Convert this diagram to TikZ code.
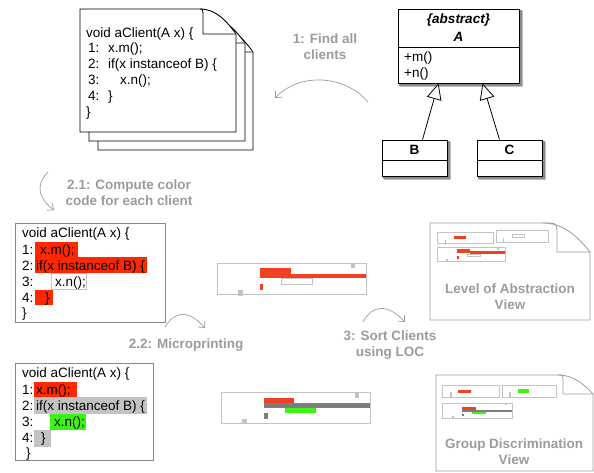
\documentclass[tikz,border=0pt]{standalone}
\usepackage{fontspec}
\setmainfont{Liberation Sans}
\usetikzlibrary{positioning,arrows.meta,backgrounds}

\definecolor{stepgray}{RGB}{155,155,155}
\definecolor{boxgray}{RGB}{135,135,135}
\definecolor{printgray}{RGB}{195,195,195}
\definecolor{hired}{RGB}{255,40,0}
\definecolor{printred}{RGB}{240,65,35}
\definecolor{higreen}{RGB}{60,245,20}
\definecolor{bargray}{RGB}{125,125,125}

\newcommand{\diagfont}{\fontsize{13.5}{16}\selectfont}

% sheet with a curled corner: x1, y1, x2, y2, curl length, fold offset, fold depth
\newcommand{\docsheet}[8][]{%
  \draw[#1] (#2,#3) -- (#4-#6,#3) .. controls (#4-0.55*#6,#3) and (#4-0.25*#6,#3+0.5*#8) .. (#4,#3+#8)
    -- (#4,#5) -- (#2,#5) -- cycle;
  \draw[#1] (#4-#6,#3) .. controls (#4-#7,#3) .. (#4-#7,#3+0.4*#8) -- (#4-#7,#3+#8) -- (#4,#3+#8);}

% soft shadow behind a class box
\newcommand{\boxshadow}[1]{%
  \begin{scope}[on background layer]
    \fill[black!25] ([shift={(2pt,-4pt)}]#1.south west) rectangle ([shift={(4pt,-2pt)}]#1.north east);
    \fill[black!45] ([shift={(1pt,-3pt)}]#1.south west) rectangle ([shift={(3pt,-1pt)}]#1.north east);
  \end{scope}}

\tikzset{
  code/.style={anchor=base west, inner sep=0pt, font=\diagfont},
  stepnote/.style={text=stepgray, font=\diagfont\bfseries, align=center},
  curvy/.style={draw=stepgray, line width=0.7pt, -{Straight Barb[length=5pt,width=9pt]}},
  umlbox/.style={draw, fill=white, line width=0.8pt},
  inherit/.style={line width=0.8pt, -{Triangle[open, length=16pt, width=15pt, fill=white]}},
}

\begin{document}
\begin{tikzpicture}[x=1pt, y=-1pt]
\useasboundingbox (0,0) rectangle (594,473);

% stack of client sources
\docsheet[fill=white, line width=0.9pt]{98}{27}{253}{150}{36}{33}{25}
\docsheet[fill=white, line width=0.9pt]{89}{18}{245}{141}{36}{33}{25}
\docsheet[fill=white, line width=0.9pt]{80}{9}{236}{132}{36}{33}{25}
\node[code] (d0) at (86,37.5) {void aClient(A x) \{};
\foreach \k/\y in {1/52.5,2/68.5,3/84.5,4/100.5}
  \node[code] (dn\k) at (88,\y) {\k:};
\node[code] (d1) at (108,52.5) {x.m();};
\node[code] (d2) at (108,68.5) {if(x instanceof B) \{};
\node[code] (d3) at (120,84.5) {x.n();};
\node[code] (d4) at (108,100.5) {\}};
\node[code] (d5) at (86,116.5) {\}};

% class hierarchy
\node[umlbox, minimum width=121, minimum height=74] (A) at (458.5,46) {};
\boxshadow{A}
\draw[line width=0.8pt] ([yshift=-1pt]A.west) -- ([yshift=-1pt]A.east);
\node[font=\diagfont\bfseries\itshape] (Aabs) at (458.5,20) {\{abstract\}};
\node[font=\diagfont\bfseries\itshape] (Aname) at (458.5,37) {A};
\node[code] (Am) at (404,62) {+m()};
\node[code] (An) at (404,78) {+n()};
\node[umlbox, minimum width=65, minimum height=36] (B) at (414.5,158) {};
\boxshadow{B}
\draw[line width=0.8pt] ([yshift=-2pt]B.west) -- ([yshift=-2pt]B.east);
\node[font=\diagfont\bfseries] (Bname) at (414.5,150) {B};
\node[umlbox, minimum width=65, minimum height=36] (C) at (509.5,158) {};
\boxshadow{C}
\draw[line width=0.8pt] ([yshift=-2pt]C.west) -- ([yshift=-2pt]C.east);
\node[font=\diagfont\bfseries] (Cname) at (509.5,150) {C};
\draw[inherit] ([xshift=8pt]B.north) -- ([xshift=-20pt]A.south);
\draw[inherit] ([xshift=-10pt]C.north) -- ([xshift=24pt]A.south);

% steps
\node[stepnote] (find) at (325,46.5) {1: Find all\\clients};
\coordinate (find s) at (368,102);
\coordinate (find e) at (275,98);
\draw[curvy] (find s) .. controls (345,75) and (300,72) .. (find e);

\node[stepnote] (color) at (129,193) {2.1: Compute color\\code for each client};
\coordinate (color s) at (48,172);
\coordinate (color e) at (54,210);
\draw[curvy] (color s) .. controls (34,186) and (40,200) .. (color e);

\node[stepnote] (micro) at (186,345) {2.2: Microprinting};
\coordinate (micro s) at (165,327);
\coordinate (micro e) at (205,328);
\draw[curvy] (micro s) .. controls (175,311) and (188,309) .. (micro e);

\node[stepnote] (sort) at (390,345) {3: Sort Clients\\using LOC};
\coordinate (sort s) at (363,322);
\coordinate (sort e) at (405,322);
\draw[curvy] (sort s) .. controls (373,304) and (388,304) .. (sort e);

% colour-coded client
\node[draw=boxgray, line width=0.8pt, minimum width=150, minimum height=99, inner sep=0] (cbox) at (90,272.5) {};
\fill[hired] (35,242) rectangle (78,257);
\fill[hired] (35,257) rectangle (147,273);
\draw[printgray, fill=white] (51,273) rectangle (86,289);
\fill[hired] (35,290) rectangle (53,305);
\node[code] (c0) at (22,237.5) {void aClient(A x) \{};
\foreach \k/\y in {1/254.5,2/270.5,3/286,4/302}
  \node[code] (cn\k) at (22,\y) {\k:};
\node[code] (c1) at (40,254.5) {x.m();};
\node[code] (c2) at (36,270.5) {if(x instanceof B) \{};
\node[code] (c3) at (55,286) {x.n();};
\node[code] (c4) at (45,302) {\}};
\node[code] (c5) at (22,317) {\}};

% group-coloured client
\node[draw=boxgray, line width=0.8pt, minimum width=138, minimum height=97, inner sep=0] (gbox) at (84,411.5) {};
\fill[hired] (34,382) rectangle (77,397);
\fill[printgray] (34,397) rectangle (147,414);
\fill[higreen] (50,414) rectangle (86,430);
\fill[printgray] (34,430) rectangle (51,447);
\node[code] (g0) at (22,377.5) {void aClient(A x) \{};
\foreach \k/\y in {1/394.5,2/410.5,3/426.5,4/442.5}
  \node[code] (gn\k) at (22,\y) {\k:};
\node[code] (g1) at (36,394.5) {x.m();};
\node[code] (g2) at (36,410.5) {if(x instanceof B) \{};
\node[code] (g3) at (54,426.5) {x.n();};
\node[code] (g4) at (41,442.5) {\}};
\node[code] (g5) at (26,457.5) {\}};

% microprints
\draw[printgray, line width=0.8pt] (217,263) rectangle (366,294);
\fill[printred] (260,268) rectangle (291,278);
\fill[printred] (291,273.5) rectangle (366,278);
\draw[printgray, fill=white] (281,278) rectangle (312,284);
\fill[printred] (260,284) rectangle (263,290);
\fill[printgray] (351,263) rectangle (355,268);
\fill[printgray] (238,290) rectangle (243,296);

\draw[printgray, line width=0.8pt] (221,392) rectangle (370,423);
\fill[printred] (264,398) rectangle (294,403);
\fill[bargray] (264,403) rectangle (370,408);
\fill[higreen] (285,408) rectangle (316,413);
\fill[bargray] (264,413) rectangle (268,419);
\fill[printgray] (355,392) rectangle (359,398);
\fill[printgray] (242,419) rectangle (247,424);

% level of abstraction view
\docsheet[draw=stepgray, line width=0.8pt]{430}{223}{590}{320}{47}{33}{29}
\draw[printgray, line width=0.6pt] (437,232) rectangle (493,243);
\fill[printred] (454,236) rectangle (466,239);
\fill[printgray] (444.5,240) rectangle (446,245);
\draw[printgray, line width=0.6pt] (496,230) rectangle (548,242);
\draw[printgray, line width=0.6pt] (512,234) rectangle (524,237);
\fill[printgray] (502.5,238) rectangle (504,243);
\draw[printgray, line width=0.6pt] (437,247) rectangle (505,261);
\fill[printred] (457,249) rectangle (470,253);
\fill[printred] (470,251) rectangle (505,254);
\draw[printgray, line width=0.5pt] (467,254) rectangle (480,256);
\fill[printred] (457,256) rectangle (458.5,258.5);
\fill[printgray] (497,247) rectangle (498.5,249.5);
\fill[printgray] (446,259) rectangle (447.5,261.5);
\node[stepnote] (lvl) at (510,296.5) {Level of Abstraction\\View};

% group discrimination view
\docsheet[draw=stepgray, line width=0.8pt]{436}{375}{593}{471}{35}{30}{19}
\draw[printgray, line width=0.6pt] (442,385) rectangle (499,397);
\fill[printred] (458,390) rectangle (471,393);
\fill[printgray] (450,392) rectangle (451.5,397);
\draw[printgray, line width=0.6pt] (502,385) rectangle (556,397);
\fill[higreen] (518,389) rectangle (529,393);
\fill[printgray] (509,392) rectangle (510.5,397);
\draw[printgray, line width=0.6pt] (442,403) rectangle (512,418);
\fill[printred] (462,407) rectangle (476,409.5);
\fill[bargray] (462,409.5) rectangle (512,411.5);
\fill[higreen] (472,411.5) rectangle (486,414);
\fill[bargray] (462,414) rectangle (463.5,416);
\fill[printgray] (505,403) rectangle (506.5,405);
\fill[printgray] (452,416) rectangle (453.5,418);
\node[stepnote] (grp) at (514,452) {Group Discrimination\\View};
\end{tikzpicture}
\end{document}
